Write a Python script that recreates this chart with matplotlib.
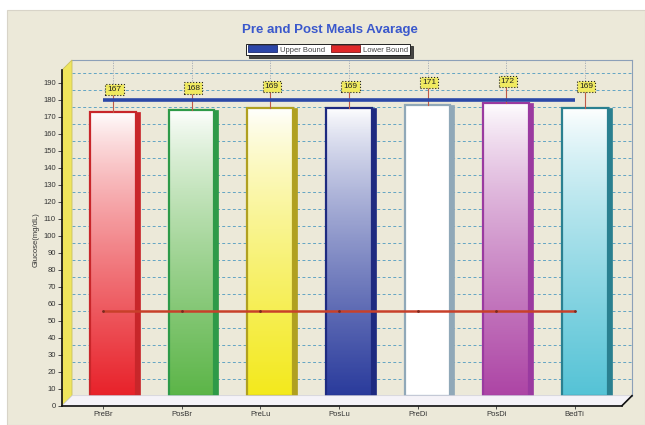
import numpy as np
import matplotlib
matplotlib.use('Agg')
import matplotlib.pyplot as plt
from matplotlib.patches import Rectangle, Polygon, Patch
from matplotlib.colors import LinearSegmentedColormap
from matplotlib.lines import Line2D

plt.rcParams['font.family'] = ['Liberation Sans', 'DejaVu Sans']

# data
categories = ['PreBr', 'PosBr', 'PreLu', 'PosLu', 'PreDi', 'PosDi', 'BedTi']
values = [167, 168, 169, 169, 171, 172, 169]
upper_bound = 180
lower_bound = 56
yticks = list(range(0, 200, 10))

# (bottom colour, side/edge colour) per bar
bar_colors = [('#e8222a', '#c8262a'), ('#5cb548', '#2e9a48'), ('#f3e91c', '#b0a020'),
              ('#2a3b9c', '#1e2a80'), ('#ffffff', '#90a8b8'), ('#ad45a5', '#9a3aa0'),
              ('#55c3d6', '#2a8090')]

W, H = 645, 425
def P(x, y):
    # pixel (from top-left) -> figure fraction
    return (x / W, 1 - y / H)

fig = plt.figure(figsize=(6.45, 4.25), dpi=100, facecolor='white')
beige = '#ece9d9'
fig.patches.append(Rectangle(P(7, 425), (W - 7) / W, (425 - 10) / H, transform=fig.transFigure,
                             fc=beige, ec='#d8d4c8', lw=0.8, zorder=-10))

# plot geometry (pixels)
back_l, back_r, back_t, back_b = 72, 632, 60, 395.7
dx, dy = 10, 10
px_per_unit = 1.7
ymax = (back_b - back_t) / px_per_unit
xlim = (-0.52, 6.6)

# back wall axes (bars + grid)
ax = fig.add_axes([back_l / W, 1 - back_b / H, (back_r - back_l) / W, (back_b - back_t) / H], zorder=0)
ax.set_facecolor(beige)
for s in ['left', 'bottom']:
    ax.spines[s].set_visible(False)
for s in ['top', 'right']:
    ax.spines[s].set_color('#8ca0b8')
    ax.spines[s].set_linewidth(0.8)
ax.set_xticks([])
ax.set_yticks([])
for t in yticks[1:]:
    ax.axhline(t, color='#62a4c4', lw=0.7, ls=(0, (3, 2.5)), zorder=0.5)
for i in range(len(categories)):
    ax.axvline(i, color='#a0a8b4', lw=0.6, ls=(0, (1.5, 1.5)), zorder=0.5)

w = 0.58
ddx = 4 / 78.67
grad = (np.linspace(0, 1, 256) ** 0.8)[:, None]
for i, (v, (c, ec)) in enumerate(zip(values, bar_colors)):
    x0, x1 = i - w / 2, i + w / 2
    side = Rectangle((x1, 0), ddx, v, fc=ec, ec=ec, lw=0.5, zorder=2)
    ax.add_patch(side)
    rect = Rectangle((x0, 0), w, v, fc='none', ec=ec, lw=1.6, zorder=3)
    ax.add_patch(rect)
    cmap = LinearSegmentedColormap.from_list('g%d' % i, ['#ffffff', c])
    im = ax.imshow(grad, extent=[x0, x1, 0, v], origin='upper', aspect='auto', cmap=cmap,
                   vmin=0, vmax=1, zorder=2.5)
    im.set_clip_path(rect)
    # value label
    ax.plot([i, i], [v, v + 10], color='#c05a48', lw=0.8, zorder=3)
    ax.text(i + 0.02, v + 13, str(v), ha='center', va='center', fontsize=6, color='#222222', zorder=4,
            bbox=dict(boxstyle='square,pad=0.25', fc='#f0ea60', ec='#222222', lw=0.8, ls=':'))
ax.set_xlim(*xlim)
ax.set_ylim(0, ymax)

# left wall and floor
fig.patches.append(Polygon([P(62, 405.7), P(72, 395.7), P(72, 60), P(62, 70)], closed=True,
                           transform=fig.transFigure, fc='#efe55c', ec='#c8c060', lw=0.6, zorder=1))
fig.patches.append(Polygon([P(62, 405.7), P(72, 395.7), P(632, 395.7), P(622, 405.7)], closed=True,
                           transform=fig.transFigure, fc='#f5f3f8', ec='#d0d0dc', lw=0.5, zorder=1))
fig.lines.append(Line2D([622 / W, 632 / W], [1 - 405.7 / H, 1 - 395.7 / H], transform=fig.transFigure,
                        color='#111111', lw=1.2, zorder=3))

# front plane axes (ticks + bounds)
fx = fig.add_axes([(back_l - dx) / W, 1 - (back_b + dy) / H, (back_r - back_l) / W, (back_b - back_t) / H],
                  zorder=2)
fx.patch.set_visible(False)
for s in ['top', 'right']:
    fx.spines[s].set_visible(False)
for s in ['left', 'bottom']:
    fx.spines[s].set_color('#111111')
    fx.spines[s].set_linewidth(1.2)
fx.set_xlim(*xlim)
fx.set_ylim(0, ymax)
fx.set_yticks(yticks)
fx.set_yticklabels([str(t) for t in yticks])
fx.set_xticks(range(len(categories)))
fx.set_xticklabels(categories)
fx.tick_params(axis='y', labelsize=5.5, length=3, width=0.6, pad=1.5, colors='#333333')
fx.tick_params(axis='x', labelsize=5.5, length=2, width=0.6, pad=1.5, colors='#333333')

xs = np.arange(len(categories))
fx.plot(xs, [upper_bound] * len(xs), color='#2b48a8', lw=2.6, solid_capstyle='butt', zorder=3)
fx.plot(xs, [lower_bound] * len(xs), color='#c8402a', lw=1.8, solid_capstyle='butt', zorder=3,
        marker='o', ms=1.0, mfc='#7a2a20', mec='#7a2a20')

fig.text(36 / W, 1 - 240 / H, 'Glucose(mg/dL)', rotation=90, ha='center', va='center',
         fontsize=5.5, color='#333333')

fig.text(330 / W, 1 - 30 / H, 'Pre and Post Meals Avarage', ha='center', va='center',
         fontsize=9.5, fontweight='bold', color='#3a58cc')

handles = [Patch(fc='#2c46a8', ec='#1a2a70', lw=0.6, label='Upper Bound'),
           Patch(fc='#e02828', ec='#801818', lw=0.6, label='Lower Bound')]
leg = fig.legend(handles=handles, loc='center', bbox_to_anchor=P(328, 49.5), ncol=2, fontsize=5.5,
                 frameon=True, fancybox=False, shadow={'color': '#333333', 'alpha': 0.9},
                 handlelength=3.8, handleheight=1.0,
                 columnspacing=0.8, handletextpad=0.4, borderpad=0.25, borderaxespad=0)
leg.get_frame().set_edgecolor('#222222')
leg.get_frame().set_linewidth(0.7)
for t in leg.get_texts():
    t.set_color('#444444')

fig.savefig('out.png', dpi=100)
